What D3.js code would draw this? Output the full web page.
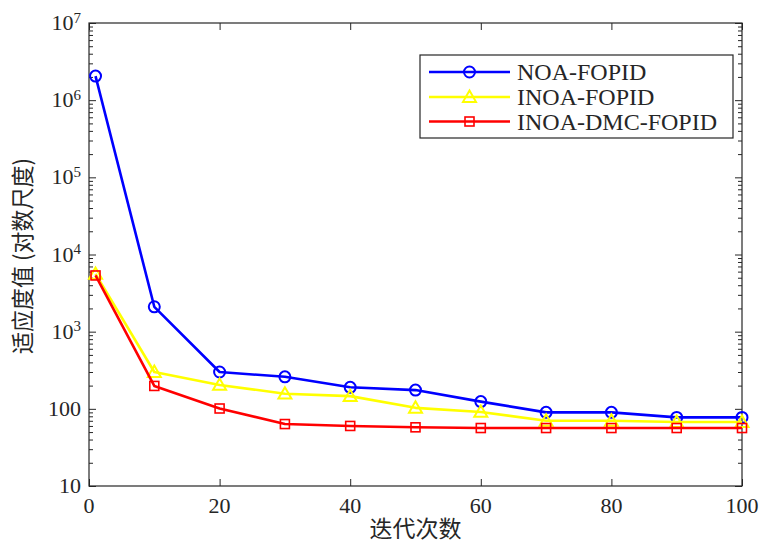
<!DOCTYPE html>
<html>
<head>
<meta charset="utf-8">
<script src="https://cdn.jsdelivr.net/npm/d3@7"></script>
<style>
  html, body { margin: 0; padding: 0; background: #fff; }
  svg { display: block; }
</style>
</head>
<body>
<svg id="chart" width="760" height="544"></svg>
<script>
// Iterations sampled for each optimiser
const iterations = [1, 10, 20, 30, 40, 50, 60, 70, 80, 90, 100];

// Best fitness per iteration (log scale)
const noaFopid     = [2.05e6, 2100, 300, 260, 190, 175, 124, 90, 90, 77.5, 77.5];
const inoaFopid    = [5600, 300, 204, 157, 146, 103, 91, 70, 70, 67.5, 67.5];
const inoaDmcFopid = [5350, 198, 101, 63.5, 60, 57.6, 56.4, 56.4, 56.4, 56.4, 56.4];

const seriesNames  = ["NOA-FOPID", "INOA-FOPID", "INOA-DMC-FOPID"];
const seriesColors = ["#0000ff", "#ffff00", "#ff0000"];
const seriesMarks  = ["circle", "triangle", "square"];

const xTicks = [0, 20, 40, 60, 80, 100];
const yTicks = [10, 100, 1e3, 1e4, 1e5, 1e6, 1e7];
const yTickExp = [null, null, "3", "4", "5", "6", "7"];

const xLabel = "迭代次数";
const yLabel = "适应度值 (对数尺度)";

const svg = d3.select("#chart");
const plotL = 89, plotR = 742, plotT = 23, plotB = 486;
const axisColor = "#262626";
const serif = "'Liberation Serif', 'Times New Roman', serif";
const cjk = "'Noto Sans CJK SC', sans-serif";

const x = d3.scaleLinear().domain([0, 100]).range([plotL, plotR]);
const y = d3.scaleLog().domain([10, 1e7]).range([plotB, plotT]);

// minor log ticks (2..9 within each decade)
const minor = y.ticks().filter(v => !yTicks.some(t => Math.abs(t - v) / t < 1e-9));

function styleAxis(g) {
  g.select(".domain").remove();
  g.selectAll(".tick line").attr("stroke", axisColor).attr("stroke-width", 1);
}

// major / minor ticks pointing inward on all four sides
svg.append("g").attr("transform", `translate(0,${plotB})`)
  .call(d3.axisBottom(x).tickValues(xTicks).tickSize(-7).tickFormat("")).call(styleAxis);
svg.append("g").attr("transform", `translate(0,${plotT})`)
  .call(d3.axisTop(x).tickValues(xTicks).tickSize(-7).tickFormat("")).call(styleAxis);
svg.append("g").attr("transform", `translate(${plotL},0)`)
  .call(d3.axisLeft(y).tickValues(yTicks).tickSize(-7).tickFormat("")).call(styleAxis);
svg.append("g").attr("transform", `translate(${plotL},0)`)
  .call(d3.axisLeft(y).tickValues(minor).tickSize(-4).tickFormat("")).call(styleAxis);
svg.append("g").attr("transform", `translate(${plotR},0)`)
  .call(d3.axisRight(y).tickValues(yTicks).tickSize(-7).tickFormat("")).call(styleAxis);
svg.append("g").attr("transform", `translate(${plotR},0)`)
  .call(d3.axisRight(y).tickValues(minor).tickSize(-4).tickFormat("")).call(styleAxis);

// frame
svg.append("rect")
  .attr("x", plotL).attr("y", plotT)
  .attr("width", plotR - plotL).attr("height", plotB - plotT)
  .attr("fill", "none").attr("stroke", axisColor).attr("stroke-width", 1.2);

// x tick labels
svg.append("g").selectAll("text").data(xTicks).join("text")
  .attr("x", d => x(d)).attr("y", plotB + 27)
  .attr("text-anchor", "middle")
  .attr("font-family", serif).attr("font-size", 22).attr("fill", axisColor)
  .text(d => d);

// y tick labels with superscript exponents
const yl = svg.append("g").selectAll("text").data(yTicks).join("text")
  .attr("x", plotL - 8).attr("y", d => y(d) + 7)
  .attr("text-anchor", "end")
  .attr("font-family", serif).attr("font-size", 22).attr("fill", axisColor);
yl.each(function(d, i) {
  const t = d3.select(this);
  if (yTickExp[i] === null) {
    t.text(d);
  } else {
    t.append("tspan").text("10");
    t.append("tspan").attr("dy", -7.5).attr("font-size", 15).text(yTickExp[i]);
  }
});

// axis titles
svg.append("text")
  .attr("x", (plotL + plotR) / 2).attr("y", 537)
  .attr("text-anchor", "middle")
  .attr("font-family", cjk).attr("font-size", 23).attr("fill", axisColor)
  .text(xLabel);
svg.append("text")
  .attr("transform", "translate(25,256) rotate(-90)")
  .attr("text-anchor", "middle").attr("dominant-baseline", "middle")
  .attr("font-family", cjk).attr("font-size", 23).attr("fill", axisColor)
  .attr("textLength", 196).attr("lengthAdjust", "spacingAndGlyphs")
  .text(yLabel);

// marker shapes
function drawMarker(g, kind, cx, cy, color) {
  if (kind === "circle") {
    g.append("circle").attr("cx", cx).attr("cy", cy).attr("r", 5.5)
      .attr("fill", "none").attr("stroke", color).attr("stroke-width", 2);
  } else if (kind === "square") {
    g.append("rect").attr("x", cx - 4.5).attr("y", cy - 4.5)
      .attr("width", 9).attr("height", 9)
      .attr("fill", "none").attr("stroke", color).attr("stroke-width", 1.6);
  } else {
    const s = 6.5;
    g.append("path")
      .attr("d", `M${cx},${cy - s}L${cx + s},${cy + s * 0.75}L${cx - s},${cy + s * 0.75}Z`)
      .attr("fill", "none").attr("stroke", color).attr("stroke-width", 2);
  }
}

const allSeries = [noaFopid, inoaFopid, inoaDmcFopid];
const line = d3.line().x(d => x(d[0])).y(d => y(d[1]));

allSeries.forEach((vals, si) => {
  const pts = iterations.map((it, i) => [it, vals[i]]);
  const g = svg.append("g");
  g.append("path").datum(pts).attr("d", line)
    .attr("fill", "none").attr("stroke", seriesColors[si])
    .attr("stroke-width", 2.6).attr("stroke-linejoin", "round");
  pts.forEach(p => drawMarker(g, seriesMarks[si], x(p[0]), y(p[1]), seriesColors[si]));
});

// legend
const lg = svg.append("g");
lg.append("rect").attr("x", 420).attr("y", 55).attr("width", 313).attr("height", 83)
  .attr("fill", "#fff").attr("stroke", axisColor).attr("stroke-width", 1.2);
const rowY = [72, 97, 121.5];
seriesNames.forEach((name, i) => {
  lg.append("line").attr("x1", 429).attr("x2", 510)
    .attr("y1", rowY[i]).attr("y2", rowY[i])
    .attr("stroke", seriesColors[i]).attr("stroke-width", 2.6);
  drawMarker(lg, seriesMarks[i], 469.5, rowY[i], seriesColors[i]);
  lg.append("text").attr("x", 517).attr("y", rowY[i] + 8)
    .attr("font-family", serif).attr("font-size", 24).attr("fill", axisColor)
    .text(name);
});
</script>
</body>
</html>
